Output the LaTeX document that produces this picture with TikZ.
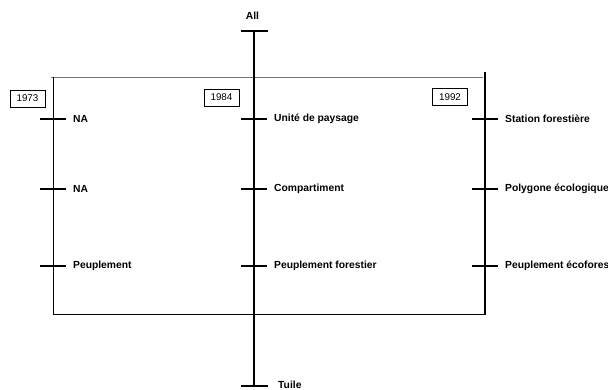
\documentclass[tikz,border=0pt]{standalone}
\usepackage{fontspec}
\setmainfont{Liberation Sans}
\begin{document}
\begin{tikzpicture}[x=1pt,y=-1pt,
  axis/.style={line width=1.3pt,black},
  frame/.style={line width=0.9pt,black},
  topedge/.style={line width=0.9pt,black!55},
  tick/.style={line width=1.3pt,black},
  lbl/.style={anchor=west,inner sep=0pt,font=\fontsize{10.3}{12}\selectfont\bfseries},
  yearbox/.style={draw,line width=0.5pt,minimum width=35pt,minimum height=17pt,inner sep=0pt,font=\fontsize{9.8}{11}\selectfont}]
\useasboundingbox (0,0) rectangle (608,389);

% frame around the three versions
\coordinate (tl) at (51,77);
\coordinate (tr) at (483,77);
\coordinate (l0) at (53,77);
\coordinate (l1) at (53,314);
\coordinate (r0) at (485,72);
\coordinate (r1) at (485,315);
\draw[topedge] (tl) -- (tr);
\draw[frame] (l0) -- (l1) -- (r1 |- l1);
\draw[axis] (r0) -- (r1);

% central axis, from All down to Tuile
\coordinate (m0) at (254,31);
\coordinate (m1) at (254,386);
\draw[axis] (m0) -- (m1);
\draw[tick] ([xshift=-13.5pt]m0) -- ([xshift=13.5pt]m0);
\draw[tick] ([xshift=-13.5pt]m1) -- ([xshift=13.5pt]m1);
\node[inner sep=0pt,font=\fontsize{10.3}{12}\selectfont\bfseries] (all) at (252.5,16) {All};
\node[lbl,anchor=base west] (tuile) at (278,388) {Tuile};

% year boxes
\node[yearbox] (y73) at (27.5,98.5) {1973};
\node[yearbox] (y84) at (221.5,97.5) {1984};
\node[yearbox] (y92) at (450,97) {1992};

% levels on each axis
\foreach \ax/\xx/\a/\b/\c in {L/53/NA/NA/Peuplement,
                              M/254/Unité de paysage/Compartiment/Peuplement forestier,
                              R/485/Station forestière/Polygone écologique/Peuplement écoforestier}{
  \foreach \yy/\t/\k in {119/\a/1,189/\b/2,266/\c/3}{
    \coordinate (\ax\k) at (\xx,\yy);
    \draw[tick] ([xshift=-13pt]\ax\k) -- ([xshift=13pt]\ax\k);
    \node[lbl] (\ax\k t) at ([xshift=20pt]\ax\k) {\t};
  }
}
\end{tikzpicture}
\end{document}
